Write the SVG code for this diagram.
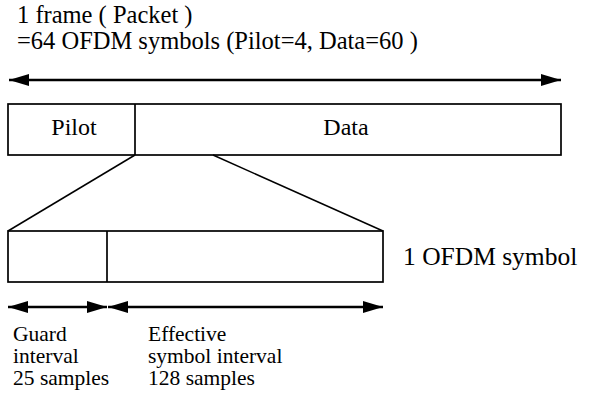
<svg xmlns="http://www.w3.org/2000/svg" width="589" height="406" viewBox="0 0 589 406">
<style>
text{font-family:"Liberation Serif","Times New Roman","DejaVu Serif",serif;fill:#000;}
.t{font-size:24px;}
.s{font-size:21.5px;}
.box{fill:none;stroke:#000;stroke-width:1.7;}
.ln{fill:none;stroke:#000;stroke-width:1.5;}
.arr{fill:none;stroke:#000;stroke-width:2.3;marker-start:url(#h);marker-end:url(#h);}
</style>
<defs>
<marker id="h" viewBox="0 0 20 12" refX="20" refY="6" markerWidth="20" markerHeight="12" markerUnits="userSpaceOnUse" orient="auto-start-reverse">
<path d="M0,0 L20,6 L0,12 Z" fill="#000"/>
</marker>
</defs>
<g id="title">
<text class="t" x="17" y="23" style="font-size:24.5px">1 frame ( Packet )</text>
<text class="t" x="17" y="49" style="font-size:24.5px">=64 OFDM symbols (Pilot=4, Data=60 )</text>
</g>
<g id="frame">
<rect class="box" x="8" y="104" width="553" height="51"/>
<line class="box" x1="135" y1="104" x2="135" y2="155"/>
<text class="t" x="74" y="135" text-anchor="middle">Pilot</text>
<text class="t" x="346" y="135" text-anchor="middle">Data</text>
</g>
<g id="symbol">
<rect class="box" x="8" y="231" width="375" height="51"/>
<line class="box" x1="107" y1="231" x2="107" y2="282"/>
<text class="t" x="403" y="265" style="font-size:25.5px">1 OFDM symbol</text>
</g>
<g id="labels">
<text class="s" x="13" y="341">Guard</text>
<text class="s" x="13" y="363">interval</text>
<text class="s" x="13" y="385">25 samples</text>
<text class="s" x="148" y="341">Effective</text>
<text class="s" x="148" y="363">symbol interval</text>
<text class="s" x="148" y="385">128 samples</text>
</g>
<g id="connectors">
<line class="arr" x1="9" y1="80" x2="561" y2="80"/>
<line class="ln" x1="135" y1="155" x2="8" y2="231"/>
<line class="ln" x1="213" y1="155" x2="383" y2="231"/>
<line class="arr" x1="8" y1="307" x2="107" y2="307"/>
<line class="arr" x1="108" y1="307" x2="383" y2="307"/>
</g>
</svg>
